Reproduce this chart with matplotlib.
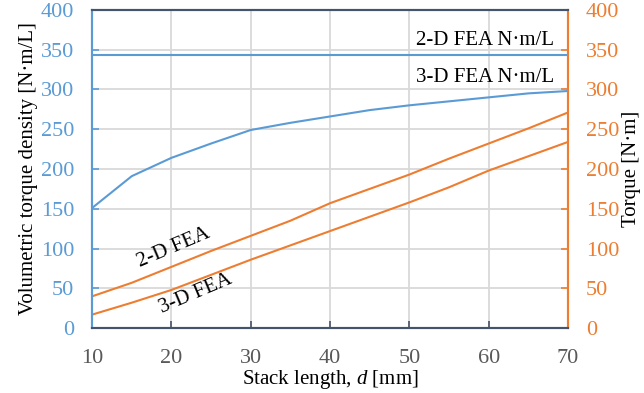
"""Volumetric torque density and torque vs stack length."""
import matplotlib

matplotlib.use("Agg")

import matplotlib.pyplot as plt

BLUE = "#5B9BD5"
ORANGE = "#ED7D31"
SPINE = "#44546A"

stack_length = [10, 15, 20, 25, 30, 35, 40, 45, 50, 55, 60, 65, 70]
density_2d = 343  # constant 2-D FEA N·m/L
density_3d = [151, 191, 214, 232, 249, 258, 266, 274, 280, 285, 290, 295, 298]
torque_2d = [40, 57, 77, 97, 116, 135, 157, 175, 193, 213, 232, 251, 271]
torque_3d = [17, 32, 48, 67, 86, 104, 122, 140, 158, 177, 198, 216, 234]

plt.rcParams["font.family"] = ["Liberation Serif", "DejaVu Serif"]
plt.rcParams["mathtext.fontset"] = "custom"
plt.rcParams["mathtext.it"] = "Liberation Serif:italic"
plt.rcParams["mathtext.rm"] = "Liberation Serif"

fig = plt.figure(figsize=(6.44, 3.93), dpi=100)
ax = fig.add_axes([0.143, 0.165, 0.739, 0.81])
ax2 = ax.twinx()

ax.axhline(density_2d, color=BLUE, linewidth=1.5, zorder=3)
ax.plot(stack_length, density_3d, color=BLUE, linewidth=1.5, zorder=3)
ax2.plot(stack_length, torque_2d, color=ORANGE, linewidth=1.5)
ax2.plot(stack_length, torque_3d, color=ORANGE, linewidth=1.5)

for a in (ax, ax2):
    a.set_xlim(10, 70)
    a.set_ylim(0, 400)
    a.set_yticks(range(0, 401, 50))

ax.set_xticks(range(10, 71, 10))
ax.grid(True, color="#D9D9D9", linewidth=1.3, zorder=0)
ax.set_axisbelow(True)

ax.tick_params(axis="y", direction="in", colors=BLUE, labelsize=16, length=5, width=1.2, pad=13)
ax.tick_params(axis="x", direction="in", colors=SPINE, labelcolor="#595959",
               labelsize=16, length=5, width=1.2, pad=15)
ax2.tick_params(axis="y", direction="in", colors=ORANGE, labelsize=16, length=5, width=1.2, pad=13)

for a in (ax, ax2):
    a.spines["left"].set_color(BLUE)
    a.spines["right"].set_color(ORANGE)
    a.spines["top"].set_color(SPINE)
    a.spines["bottom"].set_color(SPINE)
    for s in a.spines.values():
        s.set_linewidth(1.5)

ax.set_ylabel("Volumetric torque density [N·m/L]", fontsize=15, labelpad=2)
ax2.set_ylabel("Torque [N·m]", fontsize=15, labelpad=2)
ax.set_xlabel("Stack length, $\\it{d}$ [mm]", fontsize=15, labelpad=0)

ax.text(68.2, 361, "2-D FEA N·m/L", fontsize=15, ha="right", va="center")
ax.text(68.2, 315, "3-D FEA N·m/L", fontsize=15, ha="right", va="center")
ax.text(20.3, 101, "2-D FEA", fontsize=15, ha="center", va="center", rotation=23)
ax.text(23.1, 43, "3-D FEA", fontsize=15, ha="center", va="center", rotation=23)

fig.savefig("out.png", dpi=100)
